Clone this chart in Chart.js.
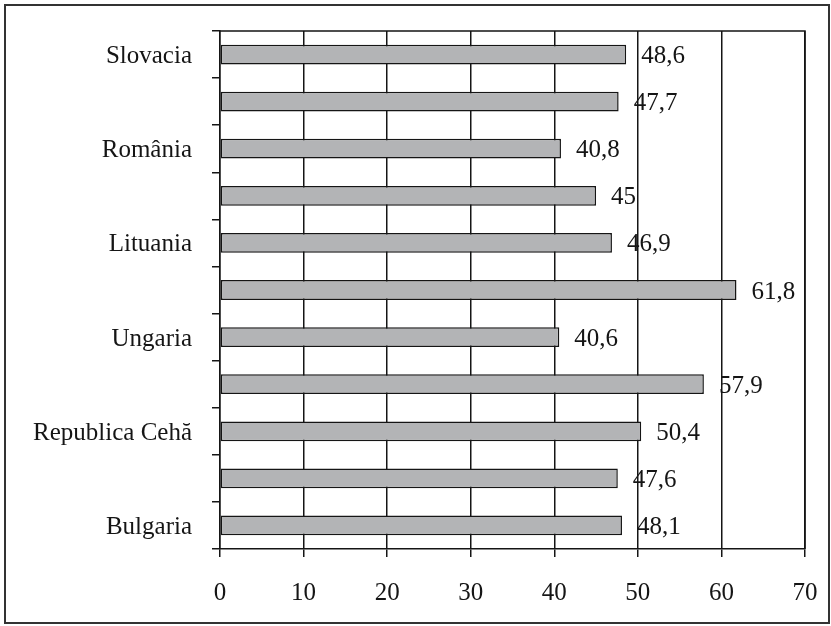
<!DOCTYPE html>
<html>
<head>
<meta charset="utf-8">
<script src="https://cdn.jsdelivr.net/npm/chart.js@4.4.1/dist/chart.umd.min.js"></script>
<style>
  html, body { margin: 0; padding: 0; background: #fff; }
  #wrap { width: 831px; height: 626px; position: relative; }
</style>
</head>
<body>
<div id="wrap"><canvas id="myChart" width="831" height="626"></canvas></div>
<script>
// categories top to bottom; only every other one gets a visible label
var countries = ['Slovacia', 'Slovenia', 'România', 'Polonia', 'Lituania', 'Letonia',
                 'Ungaria', 'Estonia', 'Republica Cehă', 'Cipru', 'Bulgaria'];
var values = [48.6, 47.7, 40.8, 45, 46.9, 61.8, 40.6, 57.9, 50.4, 47.6, 48.1];
var xTicks = [0, 10, 20, 30, 40, 50, 60, 70];

var serif = '"Liberation Serif", "Times New Roman", serif';
var ink = '#151515';

// outer frame + plot area box
var framePlugin = {
    id: 'frame',
    beforeDraw: function(chart) {
        var ctx = chart.ctx;
        ctx.save();
        ctx.fillStyle = '#fff';
        ctx.fillRect(0, 0, chart.width, chart.height);
        ctx.strokeStyle = '#333';
        ctx.lineWidth = 2;
        ctx.strokeRect(5, 5, 824, 618);
        ctx.restore();
    },
    afterDraw: function(chart) {
        var a = chart.chartArea;
        var ctx = chart.ctx;
        ctx.save();
        ctx.strokeStyle = ink;
        ctx.lineWidth = 1.5;
        ctx.beginPath();
        ctx.moveTo(a.left, a.top);
        ctx.lineTo(a.right, a.top);
        ctx.lineTo(a.right, a.bottom);
        ctx.stroke();
        ctx.restore();
    }
};

// value labels at the end of each bar, comma as decimal mark
var valueLabels = {
    id: 'valueLabels',
    afterDatasetsDraw: function(chart) {
        var ctx = chart.ctx;
        var meta = chart.getDatasetMeta(0);
        ctx.save();
        ctx.font = '25px ' + serif;
        ctx.fillStyle = ink;
        ctx.textAlign = 'left';
        ctx.textBaseline = 'middle';
        meta.data.forEach(function(bar, i) {
            var txt = String(values[i]).replace('.', ',');
            ctx.fillText(txt, bar.x + 15, bar.y + 2);
        });
        ctx.restore();
    }
};

var ctx = document.getElementById('myChart').getContext('2d');
var myChart = new Chart(ctx, {
    type: 'bar',
    data: {
        labels: countries,
        datasets: [{
            data: values,
            backgroundColor: '#b3b4b6',
            borderColor: ink,
            borderWidth: 1.5,
            borderSkipped: false,
            barPercentage: 0.42,
            categoryPercentage: 1
        }]
    },
    options: {
        indexAxis: 'y',
        responsive: false,
        animation: false,
        devicePixelRatio: 1,
        layout: { padding: { left: 0, top: 31, right: 26, bottom: 0 } },
        plugins: {
            legend: { display: false },
            tooltip: { enabled: false }
        },
        scales: {
            x: {
                min: 0,
                max: 70,
                afterBuildTicks: function(scale) {
                    scale.ticks = xTicks.map(function(v) { return { value: v }; });
                },
                afterFit: function(scale) {
                    scale.height = 77;
                    scale.paddingLeft = 0;
                    scale.paddingRight = 0;
                },
                grid: { color: ink, lineWidth: 1.5, tickLength: 8, drawOnChartArea: true },
                border: { color: ink, width: 1.5 },
                ticks: {
                    color: ink,
                    padding: 21,
                    maxRotation: 0,
                    font: { family: serif, size: 25 }
                }
            },
            y: {
                afterFit: function(scale) {
                    scale.width = 220;
                    scale.paddingTop = 0;
                    scale.paddingBottom = 0;
                },
                grid: { color: ink, lineWidth: 1.5, tickLength: 8, drawOnChartArea: false, offset: true },
                border: { color: ink, width: 1.5 },
                ticks: {
                    color: ink,
                    padding: 20,
                    labelOffset: 2,
                    autoSkip: false,
                    font: { family: serif, size: 25 },
                    callback: function(val, index) {
                        return index % 2 === 0 ? this.getLabelForValue(val) : '';
                    }
                }
            }
        }
    },
    plugins: [framePlugin, valueLabels]
});
</script>
</body>
</html>
